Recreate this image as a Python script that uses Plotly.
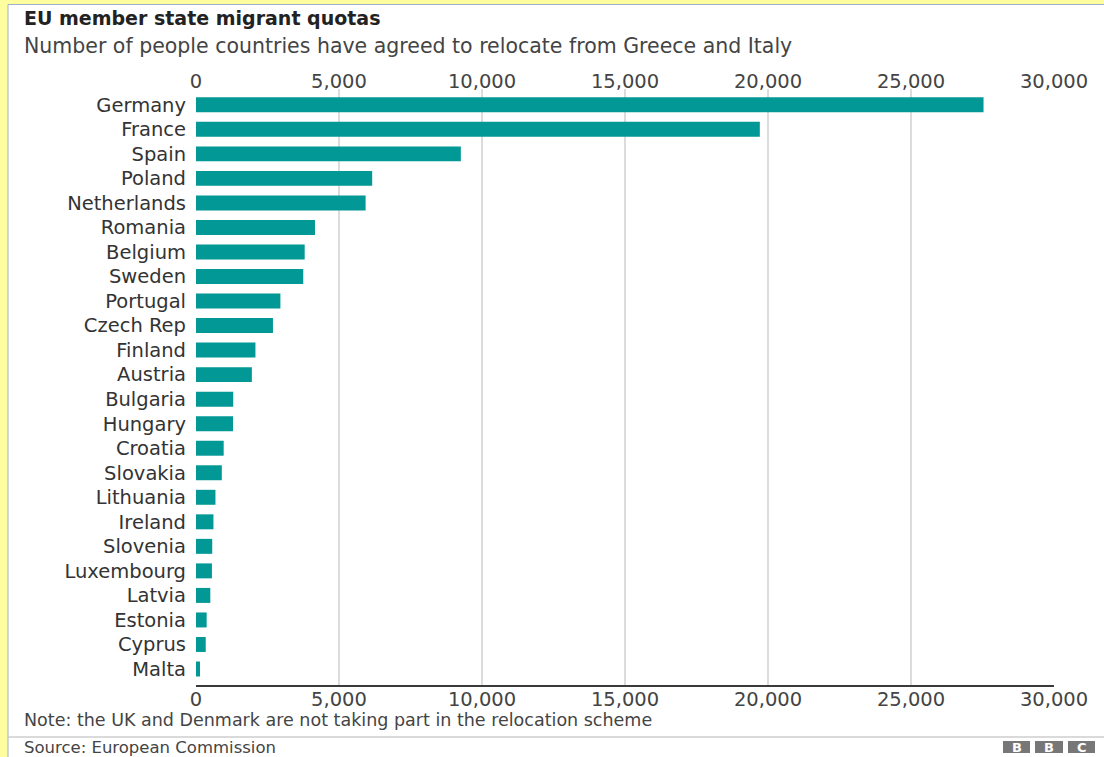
import plotly.graph_objects as go

countries = ["Germany", "France", "Spain", "Poland", "Netherlands", "Romania",
             "Belgium", "Sweden", "Portugal", "Czech Rep", "Finland", "Austria",
             "Bulgaria", "Hungary", "Croatia", "Slovakia", "Lithuania", "Ireland",
             "Slovenia", "Luxembourg", "Latvia", "Estonia", "Cyprus", "Malta"]
quotas = [27536, 19714, 9260, 6160, 5930, 4160, 3800, 3750, 2951, 2691, 2078, 1953,
          1302, 1294, 968, 902, 680, 610, 567, 557, 500, 373, 340, 140]
tick_vals = [0, 5000, 10000, 15000, 20000, 25000, 30000]
tick_text = ["0", "5,000", "10,000", "15,000", "20,000", "25,000", "30,000"]

title = "EU member state migrant quotas"
subtitle = "Number of people countries have agreed to relocate from Greece and Italy"
note = "Note: the UK and Denmark are not taking part in the relocation scheme"
source = "Source: European Commission"

W, H = 1104, 757
L, R, T, B = 196, 50, 89, 72
pw, ph = W - L - R, H - T - B


def px(x):
    return (x - L) / pw


def py(y):
    return (H - B - y) / ph


FONT = "DejaVu Sans"
TEAL = "#029895"

fig = go.Figure()
fig.add_trace(go.Bar(
    x=quotas, y=countries, orientation="h", width=0.61,
    marker=dict(color=TEAL, line=dict(width=0)),
    showlegend=False,
))
fig.add_trace(go.Scatter(x=[], y=[], xaxis="x2", showlegend=False))

n = len(countries)
fig.update_layout(
    width=W, height=H,
    margin=dict(l=L, r=R, t=T, b=B, pad=0),
    paper_bgcolor="#fefe9e",
    plot_bgcolor="white",
    font=dict(family=FONT, color="#444"),
    bargap=0.39,
    xaxis=dict(
        range=[0, 30000], tickvals=tick_vals, ticktext=tick_text,
        showgrid=True, gridcolor="#dcdcdc", gridwidth=1.5,
        showline=True, linecolor="#3a3a3a", linewidth=1.5,
        zeroline=False, ticks="", tickfont=dict(size=19.5, color="#444"),
        ticklabelstandoff=-4, fixedrange=True,
    ),
    xaxis2=dict(
        overlaying="x", side="top", range=[0, 30000],
        tickvals=tick_vals, ticktext=tick_text,
        showgrid=False, showline=False, zeroline=False, ticks="",
        tickfont=dict(size=19.5, color="#444"), ticklabelstandoff=-4,
    ),
    yaxis=dict(
        type="category", categoryorder="array", categoryarray=countries,
        range=[n - 1 + 0.652, -0.644], showgrid=False, showline=False,
        zeroline=False, ticks="", tickfont=dict(size=19.5, color="#333"),
        ticklabelstandoff=9,
    ),
)

shapes = [
    # white card with thin border
    dict(type="rect", xref="paper", yref="paper", layer="below",
         x0=px(8), x1=px(1112), y0=py(770), y1=py(4.5),
         fillcolor="white", line=dict(color="#9fb0cc", width=1)),
    # footer separator
    dict(type="line", xref="paper", yref="paper", layer="above",
         x0=px(8.5), x1=px(1104), y0=py(737), y1=py(737),
         line=dict(color="#b5b5b5", width=1)),
]
bbc_blocks = [(1003, 1030), (1035, 1063), (1068, 1095)]
for x0, x1 in bbc_blocks:
    shapes.append(dict(type="rect", xref="paper", yref="paper", layer="above",
                       x0=px(x0), x1=px(x1), y0=py(753), y1=py(741),
                       fillcolor="#777777", line=dict(width=0)))
fig.update_layout(shapes=shapes)

ann = [
    dict(text="<b>" + title + "</b>", x=px(22), y=py(18), xanchor="left", yanchor="middle",
         font=dict(size=19, color="#222", family=FONT)),
    dict(text=subtitle, x=px(22), y=py(46), xanchor="left", yanchor="middle",
         font=dict(size=20.5, color="#444", family=FONT)),
    dict(text=note, x=px(22), y=py(720), xanchor="left", yanchor="middle",
         font=dict(size=17.5, color="#444", family=FONT)),
    dict(text=source, x=px(22), y=py(747), xanchor="left", yanchor="middle",
         font=dict(size=16.5, color="#444", family=FONT)),
]
for (x0, x1), letter in zip(bbc_blocks, ["B", "B", "C"]):
    ann.append(dict(text="<b>" + letter + "</b>", x=px((x0 + x1) / 2), y=py(747),
                    xanchor="center", yanchor="middle",
                    font=dict(size=13, color="white", family=FONT)))
for a in ann:
    a.update(xref="paper", yref="paper", showarrow=False)
fig.update_layout(annotations=ann)

fig.write_html(
    "out.html",
    config={"displayModeBar": False},
    post_script="document.body.style.margin='0';document.body.style.background='#fefe9e';",
)
